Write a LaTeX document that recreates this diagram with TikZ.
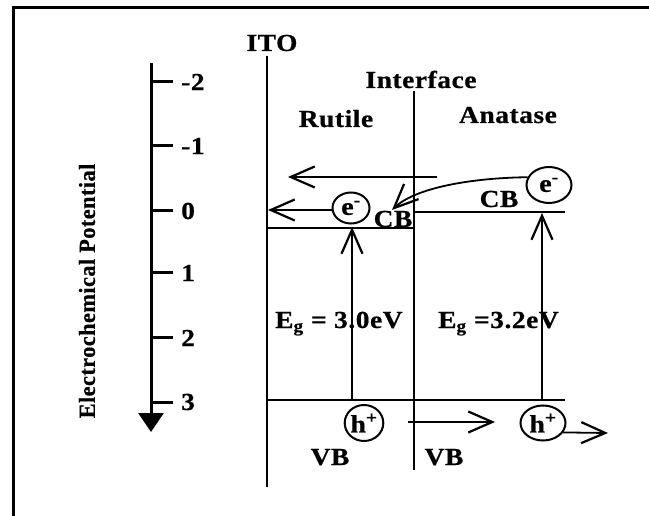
\documentclass[tikz,border=0pt]{standalone}
\usepackage{fontspec}
\setmainfont{Liberation Serif}[LetterSpace=2, BoldFeatures={FakeBold=0.6}]
\usetikzlibrary{arrows.meta,shapes.geometric}
\newcommand{\sx}[1]{\scalebox{1.12}[1]{#1}}
\begin{document}
\begin{tikzpicture}[x=1pt,y=-1pt,
  lbl/.style={font=\fontsize{24.5}{28}\selectfont\bfseries, inner sep=0pt},
  ln/.style={line width=1.8pt},
  arr/.style={line width=1.8pt, -{Straight Barb[length=24pt,width=21pt,line width=2.2pt]}},
  circ/.style={draw, ellipse, line width=2pt, inner sep=0pt, font=\fontsize{25}{28}\selectfont\bfseries}]
\useasboundingbox (0,0) rectangle (649,516);
% frame
\coordinate (fbl) at (13,516);
\coordinate (ftl) at (13,8);
\coordinate (ftr) at (649,8);
\draw[line width=3pt] (fbl) -- (ftl) -- (ftr);
% potential axis
\coordinate (axtop) at (151,63);
\coordinate (axbot) at (151,432);
\draw[line width=3pt, -{Triangle[length=19pt,width=25pt]}] (axtop) -- (axbot);
\foreach \v/\yy [count=\i] in {-2/82, -1/146, 0/211, 1/273, 2/338, 3/402} {
  \coordinate (tk\i) at (151,\yy);
  \coordinate (te\i) at (173,\yy);
  \draw[line width=3pt] (tk\i) -- (te\i);
  \node[lbl, anchor=west] (num\i) at (181,\yy) {\sx{\v}};
}
\node[rotate=90, inner sep=0pt, font=\fontsize{23}{26}\selectfont\bfseries] (axlbl) at (87,291) {\scalebox{0.97}[1]{Electrochemical Potential}};
% vertical boundaries
\coordinate (itoT) at (267,56);
\coordinate (itoB) at (267,487);
\draw[ln] (itoT) -- (itoB);
\coordinate (ifT) at (414,91);
\coordinate (ifB) at (414,470);
\draw[ln] (ifT) -- (ifB);
% titles
\node[lbl, anchor=base] (ito) at (272,51) {\sx{ITO}};
\node[lbl, anchor=base] (iface) at (421,88) {\sx{Interface}};
\node[lbl, anchor=base] (rutile) at (336,127) {\sx{Rutile}};
\node[lbl, anchor=base] (anatase) at (508,123) {\sx{Anatase}};
% band edges
\coordinate (cbR1) at (267,228);
\coordinate (cbR2) at (414,228);
\draw[ln] (cbR1) -- (cbR2);
\coordinate (cbA1) at (414,212);
\coordinate (cbA2) at (565,212);
\draw[ln] (cbA1) -- (cbA2);
\coordinate (vb1) at (267,400);
\coordinate (vb2) at (565,400);
\draw[ln] (vb1) -- (vb2);
\node[lbl, anchor=base] (cbR) at (393,227) {\sx{CB}};
\node[lbl, anchor=base] (cbA) at (499,207) {\sx{CB}};
\node[lbl, anchor=base] (vbR) at (330,465) {\sx{VB}};
\node[lbl, anchor=base] (vbA) at (444,465) {\sx{VB}};
\node[lbl, anchor=base west] (egR) at (275,328) {\sx{E\textsubscript{g} = 3.0eV}};
\node[lbl, anchor=base west] (egA) at (438,328) {\sx{E\textsubscript{g} =3.2eV}};
% carriers
\node[circ, minimum width=37pt, minimum height=31pt] (eR) at (351,208) {\sx{e\textsuperscript{-}}};
\node[circ, minimum width=45pt, minimum height=36pt] (eA) at (549,185) {\sx{e\textsuperscript{-}}};
\node[circ, minimum width=38pt, minimum height=36pt] (hR) at (364,423) {\sx{h\textsuperscript{+}}};
\node[circ, minimum width=45pt, minimum height=35pt] (hA) at (543,423) {\sx{h\textsuperscript{+}}};
% arrows
\coordinate (up1) at (437,177);
\coordinate (up2) at (288,177);
\draw[arr] (up1) -- (up2);
\coordinate (lo2) at (268,210);
\draw[arr] (eR.west |- lo2) -- (lo2);
\coordinate (exR1) at (352,400);
\coordinate (exR2) at (352,227);
\draw[arr] (exR1) -- (exR2);
\coordinate (exA1) at (542,400);
\coordinate (exA2) at (542,213);
\draw[arr] (exA1) -- (exA2);
\coordinate (cvEnd) at (392,210);
\draw[arr] (eA.160) .. controls (470,178) and (415,188) .. (cvEnd);
\coordinate (hm1) at (408,422);
\coordinate (hm2) at (495,422);
\draw[arr] (hm1) -- (hm2);
\coordinate (hout) at (608,433);
\draw[arr] (hA.-25) -- (hout);
\end{tikzpicture}
\end{document}
